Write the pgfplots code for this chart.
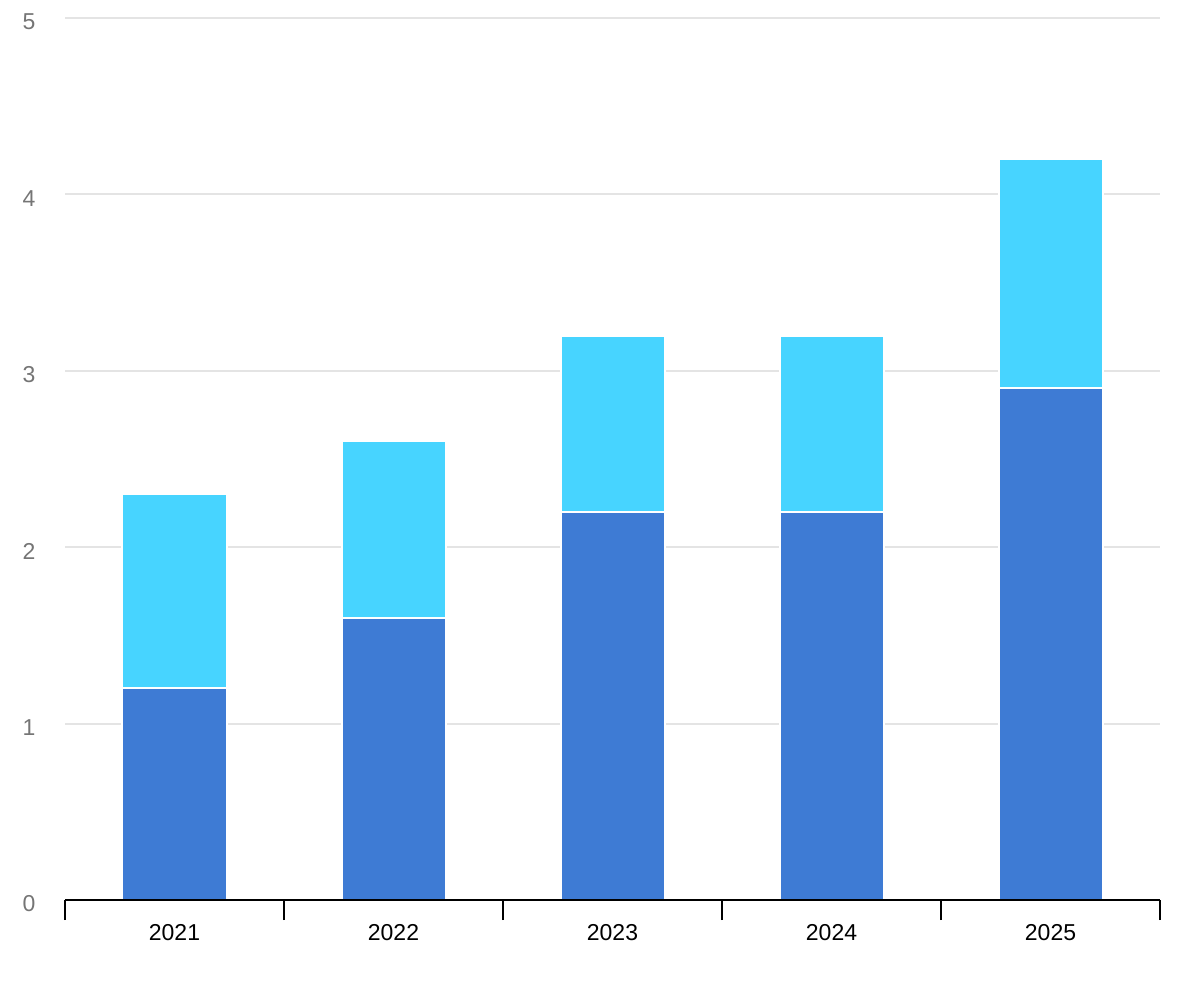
\documentclass[border=0pt]{standalone}
\usepackage{pgfplots}
\pgfplotsset{compat=1.18}
\usepackage{fontspec}
\setmainfont{Liberation Sans}
\definecolor{darkb}{HTML}{3E7BD4}
\definecolor{lightb}{HTML}{47D4FF}
\definecolor{gridc}{HTML}{E4E4E4}
\definecolor{ylab}{HTML}{757575}
\begin{document}
\begin{tikzpicture}
\begin{axis}[
  scale only axis,
  width=547.5pt, height=441pt,
  ybar stacked,
  bar width=52pt,
  xmin=-0.5, xmax=4.5,
  ymin=0, ymax=5,
  ytick={0,1,2,3,4,5},
  xtick={0,1,2,3,4},
  xticklabels={2021,2022,2023,2024,2025},
  minor xtick={-0.5,0.5,1.5,2.5,3.5,4.5},
  major x tick style={draw=none},
  minor x tick style={black, line width=0.8pt},
  minor tick length=10pt,
  tick align=outside,
  xtick pos=lower,
  ytick pos=left,
  ytick style={draw=none},
  axis line style={draw=none},
  ymajorgrids,
  grid style={gridc, line width=0.9pt},
  every tick label/.append style={font=\fontsize{11.5pt}{13.5pt}\selectfont},
  yticklabel style={ylab, anchor=east, xshift=-7pt, yshift=-2pt},
  xticklabel style={black, yshift=-4.5pt},
  /pgf/number format/assume math mode=true,
  clip=false,
]
\addplot[fill=darkb, draw=white, line width=1pt] coordinates {(0,1.2) (1,1.6) (2,2.2) (3,2.2) (4,2.9)};
\addplot[fill=lightb, draw=white, line width=1pt] coordinates {(0,1.1) (1,1.0) (2,1.0) (3,1.0) (4,1.3)};
\coordinate (sw) at (rel axis cs:0,0);
\coordinate (se) at (rel axis cs:1,0);
\coordinate (ne) at (rel axis cs:1,1);
\end{axis}
\draw[black, line width=1pt] (sw) -- (se);
\pgfresetboundingbox
\path (sw) ++(-32.5pt,-50pt) coordinate (a) (ne) ++(20pt,9pt) coordinate (b);
\path (a) rectangle (b);
\end{tikzpicture}
\end{document}
